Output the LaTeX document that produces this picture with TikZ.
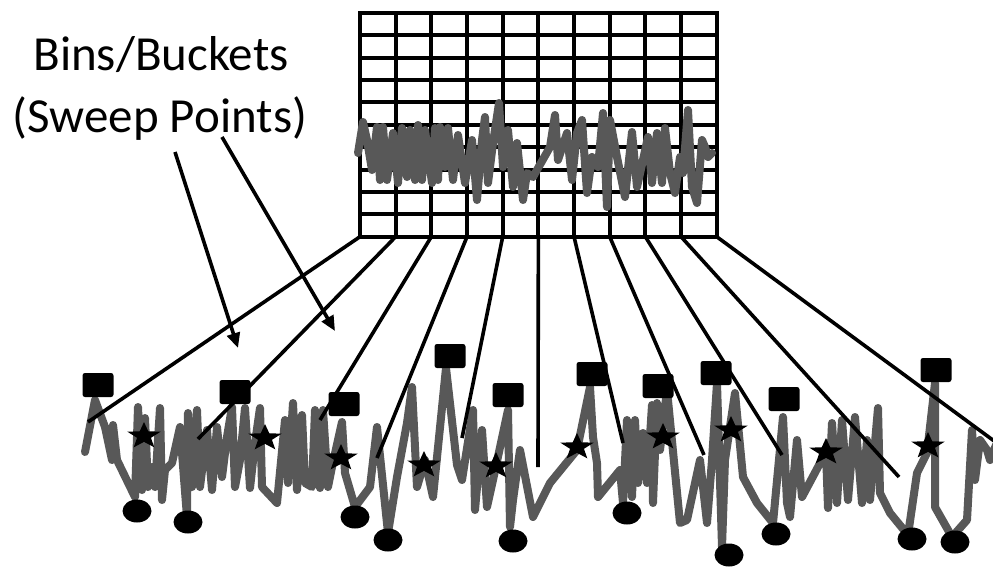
\documentclass[tikz,border=0pt]{standalone}
\usepackage{fontspec}
\setmainfont{Carlito}
\usetikzlibrary{shapes.geometric,arrows.meta}
\definecolor{wavegray}{RGB}{88,88,88}
\begin{document}
\begin{tikzpicture}[x=1pt,y=-1pt,
  wave/.style={draw=wavegray, line width=8pt, line join=round, line cap=round},
  gridline/.style={line width=4pt, line cap=rect},
  fanline/.style={line width=3.6pt},
  pointer/.style={line width=3.6pt, -{Triangle[length=15pt,width=13pt]}},
  sqmark/.style={rectangle, fill=black, rounded corners=2.5pt, minimum width=31pt, minimum height=24pt, inner sep=0pt},
  ovmark/.style={ellipse, fill=black, minimum width=29pt, minimum height=23pt, inner sep=0pt},
  stmark/.style={star, star points=5, star point ratio=2.4, fill=black, minimum size=28pt, inner sep=0pt, xscale=1.25},
  lbl/.style={font=\fontsize{49}{58}\selectfont, anchor=base, inner sep=0pt}]
\clip (0,0) rectangle (993,566);
\fill[white] (0,0) rectangle (993,566);
% grid of bins
\foreach \i in {0,...,10} {
  \draw[gridline] ({360+35.67*\i},12.7) -- ({360+35.67*\i},236.7);
  \draw[gridline] (360,{12.7+22.4*\i}) -- (716.7,{12.7+22.4*\i});
  \coordinate (g\i) at ({360+35.67*\i},236.7);
}
% waveform inside the grid
\draw[wave] plot coordinates {(358,153) (363,122) (367,140) (372,170) (377,127) (380,180) (383,127) (387,180) (393,133) (398,183) (402,128) (407,177) (410,130) (415,180) (418,125) (422,180) (425,130) (432,183) (435,128) (438,180) (440,127) (445,167) (448,128) (453,180) (458,135) (465,183) (472,140) (477,200) (482,140) (485,117) (488,183) (493,143) (499,103) (503,167) (508,130) (513,187) (517,143) (523,200) (527,173) (533,177) (550,147) (555,115) (558,160) (567,133) (572,180) (577,133) (582,120) (587,193) (592,157) (598,167) (603,113) (607,207) (610,120) (617,157) (625,197) (632,132) (637,187) (643,160) (648,137) (652,183) (657,133) (662,183) (665,128) (670,173) (675,193) (680,157) (683,173) (688,110) (692,187) (697,203) (702,140) (705,147) (708,157) (712,153)};
% swept waveform
\draw[wave] plot coordinates {(85,452) (95,400) (105,427) (112,460) (113,425) (117,460) (135,497) (138,407) (142,490) (145,418) (148,487) (152,467) (155,487) (160,408) (162,500) (165,470) (172,463) (180,427) (187,517) (188,413) (192,487) (197,410) (200,487) (207,430) (212,490) (217,427) (222,477) (227,437) (232,407) (235,487) (240,460) (245,408) (250,488) (255,443) (260,408) (262,487) (277,503) (285,420) (288,483) (293,403) (297,490) (302,415) (305,483) (312,487) (315,410) (320,488) (323,410) (328,487) (332,467) (342,422) (345,473) (355,507) (370,487) (377,427) (388,533) (397,477) (407,423) (412,387) (417,487) (425,460) (433,497) (446,368) (457,465) (462,480) (473,410) (475,510) (482,430) (487,507) (493,480) (508,410) (510,527) (513,500) (520,450) (533,517) (550,483) (577,450) (590,387) (593,437) (597,463) (598,497) (620,470) (623,503) (627,420) (632,497) (635,420) (638,483) (643,433) (647,483) (652,405) (653,503) (657,403) (660,450) (667,390) (680,523) (687,520) (700,460) (707,523) (712,460) (717,383) (722,547) (725,460) (735,393) (743,477) (757,503) (773,523) (783,417) (787,503) (790,517) (797,440) (802,497) (826,452) (828,508) (832,423) (837,503) (842,420) (848,500) (855,417) (862,503) (867,440) (870,500) (878,408) (880,493) (890,513) (908,535) (917,473) (927,453) (935,383) (935,507) (952,537) (967,520) (972,430) (975,480) (980,440) (987,450) (990,460) (996,445)};
% maxima (squares)
\foreach \n/\x/\y in {1/98/385, 2/235/392, 3/344/404, 4/450/356, 5/508/395, 6/592/374, 7/658/386, 8/716/373, 9/784/399, 10/936/370}
  \node[sqmark] (q\n) at (\x,\y) {};
% minima (ellipses)
\foreach \n/\x/\y in {1/137/511, 2/188/522, 3/355/517, 4/388/540, 5/513/541, 6/627/513, 7/729/555, 8/776/534, 9/912/539, 10/955/542}
  \node[ovmark] (e\n) at (\x,\y) {};
% sweep values (stars)
\foreach \n/\x/\y in {1/144/436, 2/265/438, 3/341/458, 4/424/465, 5/496/466, 6/577/447, 7/663/437, 8/731/430, 9/826/452, 10/928/446}
  \node[stmark] (s\n) at (\x,\y) {};
% lines from bins to sweep points
\foreach \i/\x/\y in {0/88/422, 1/198/439, 2/320/420, 3/377/458, 4/462/438, 5/538/467, 6/623/443, 7/704/455, 8/782/455, 9/899/477, 10/1005/449} {
  \coordinate (w\i) at (\x,\y);
  \draw[fanline] (g\i) -- (w\i);
}
% label and pointers
\node[lbl] (lbl1) at (161,70) {Bins/Buckets};
\node[lbl] (lbl2) at (160,132) {(Sweep Points)};
\coordinate (a1) at (175,152);
\coordinate (b1) at (238,348);
\coordinate (a2) at (222,137);
\coordinate (b2) at (335,331);
\draw[pointer] (a1) -- (b1);
\draw[pointer] (a2) -- (b2);
\end{tikzpicture}
\end{document}
